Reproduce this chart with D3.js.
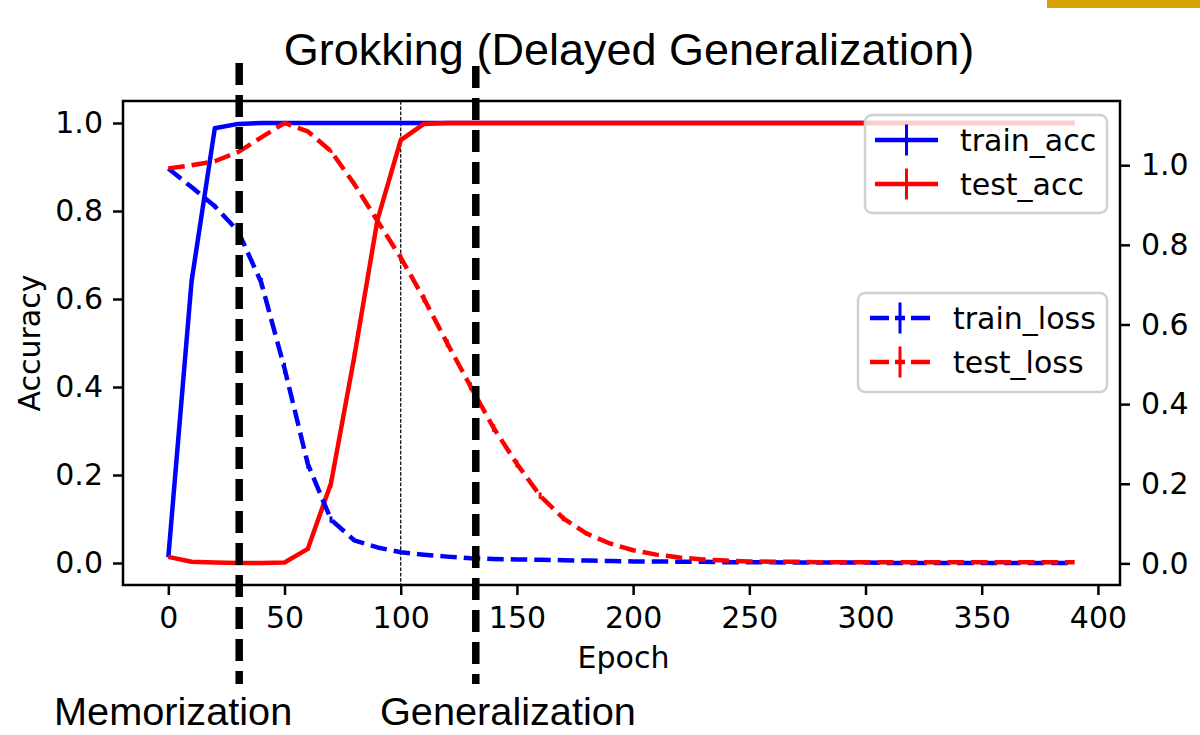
<!DOCTYPE html>
<html>
<head>
<meta charset="utf-8" />
<title>Grokking (Delayed Generalization)</title>
<script src="https://cdn.jsdelivr.net/npm/d3@7"></script>
<style>
  body { margin: 0; background: #fff; }
  svg text { font-family: 'DejaVu Sans', sans-serif; fill: #000; }
  .tick text { font-size: 30px; }
  .tick line { stroke: #000; stroke-width: 2.5px; }
  .big { font-family: 'Liberation Sans', Arial, sans-serif !important; }
</style>
</head>
<body>
<script>
// epochs (one point every 10 epochs)
var epochs = [0,10,20,30,40,50,60,70,80,90,100,110,120,130,140,150,160,170,180,190,
              200,210,220,230,240,250,260,270,280,290,300,310,320,330,340,350,360,370,380,390];

// accuracy, left axis
var trainAcc = [0.013,0.64,0.988,0.998,1,1,1,1,1,1,1,1,1,1,1,1,1,1,1,1,
                1,1,1,1,1,1,1,1,1,1,1,1,1,1,1,1,1,1,1,1];
var testAcc  = [0.014,0.003,0.001,0,0,0.001,0.032,0.181,0.468,0.78,0.961,0.998,1,1,1,1,1,1,1,1,
                1,1,1,1,1,1,1,1,1,1,1,1,1,1,1,1,1,1,1,1];
// loss, right axis
var trainLoss = [0.992,0.945,0.897,0.835,0.705,0.49,0.25,0.11,0.058,0.04,0.028,0.022,0.017,0.013,0.011,0.01,0.009,0.008,0.007,0.006,
                 0.005,0.005,0.004,0.004,0.003,0.003,0.003,0.002,0.002,0.002,0.002,0.001,0.001,0.001,0.001,0.001,0.001,0.001,0.001,0.001];
var testLoss  = [0.992,1.0,1.01,1.033,1.07,1.106,1.085,1.035,0.953,0.86,0.768,0.665,0.553,0.445,0.34,0.25,0.17,0.113,0.075,0.05,
                 0.033,0.022,0.015,0.01,0.007,0.005,0.004,0.004,0.003,0.003,0.003,0.003,0.003,0.003,0.003,0.003,0.003,0.003,0.003,0.003];

// error bars (std over runs)
var trainAccErr  = [0,0.015,0.004,0,0,0,0,0,0,0,0,0,0,0,0,0,0,0,0,0,0,0,0,0,0,0,0,0,0,0,0,0,0,0,0,0,0,0,0,0];
var testAccErr   = [0,0,0,0,0,0,0.004,0.01,0.012,0.012,0.006,0,0,0,0,0,0,0,0,0,0,0,0,0,0,0,0,0,0,0,0,0,0,0,0,0,0,0,0,0];
var trainLossErr = [0,0.004,0.006,0.01,0.012,0.014,0.012,0.008,0.004,0,0,0,0,0,0,0,0,0,0,0,0,0,0,0,0,0,0,0,0,0,0,0,0,0,0,0,0,0,0,0];
var testLossErr  = [0,0,0,0,0,0,0,0.004,0.006,0.008,0.01,0.01,0.01,0.01,0.01,0.009,0.008,0.007,0.005,0.003,0.002,0,0,0,0,0,0,0,0,0,0,0,0,0,0,0,0,0,0,0];

var xTicks = [0,50,100,150,200,250,300,350,400];
var yTicks = [0,0.2,0.4,0.6,0.8,1.0];
var markEpoch = 100;              // thin dotted marker
var phaseEpochs = [30.5, 132.3];  // memorization / generalization boundaries
var phaseLabels = ["Memorization", "Generalization"];

var W = 1200, H = 735;
var L = 123, R = 1120, T = 101, B = 585;
var LW = 4.5, DASH = "16.5,7";

var svg = d3.select("body").append("svg").attr("width", W).attr("height", H);

// matplotlib style 5% margins
function padded(lo, hi) { var m = (hi - lo) * 0.05; return [lo - m, hi + m]; }

var x = d3.scaleLinear().domain(padded(d3.min(epochs), d3.max(epochs))).range([L, R]);
var yAcc = d3.scaleLinear()
  .domain(padded(Math.min(d3.min(trainAcc), d3.min(testAcc)), Math.max(d3.max(trainAcc), d3.max(testAcc))))
  .range([B, T]);
var yLoss = d3.scaleLinear()
  .domain(padded(Math.min(d3.min(trainLoss), d3.min(testLoss)), Math.max(d3.max(trainLoss), d3.max(testLoss))))
  .range([B, T]);

// gold strip top right
svg.append("rect").attr("x", 1047).attr("y", 0).attr("width", 153).attr("height", 8).attr("fill", "#d6a200");

// thin dashed marker line
svg.append("line")
  .attr("x1", x(markEpoch)).attr("x2", x(markEpoch)).attr("y1", T).attr("y2", B)
  .attr("stroke", "#000").attr("stroke-width", 1.2).attr("stroke-dasharray", "3.7,1.6");

function drawSeries(vals, errs, yS, color, dashed) {
  var pts = epochs.map(function(e, i) { return [e, vals[i], errs[i]]; });
  var line = d3.line().x(function(d) { return x(d[0]); }).y(function(d) { return yS(d[1]); });
  svg.append("path").datum(pts)
    .attr("d", line)
    .attr("fill", "none")
    .attr("stroke", color)
    .attr("stroke-width", LW)
    .attr("stroke-linejoin", "round")
    .attr("stroke-dasharray", dashed ? DASH : null);
  svg.append("g").selectAll("line")
    .data(pts.filter(function(d) { return d[2] > 0; }))
    .enter().append("line")
    .attr("x1", function(d) { return x(d[0]); })
    .attr("x2", function(d) { return x(d[0]); })
    .attr("y1", function(d) { return yS(d[1] - d[2]); })
    .attr("y2", function(d) { return yS(d[1] + d[2]); })
    .attr("stroke", color).attr("stroke-width", 3);
}

drawSeries(trainAcc, trainAccErr, yAcc, "#0000ff", false);
drawSeries(testAcc, testAccErr, yAcc, "#ff0000", false);

function legend(x0, y0, w, h, items) {
  var g = svg.append("g");
  g.append("rect").attr("x", x0).attr("y", y0).attr("width", w).attr("height", h)
    .attr("rx", 7).attr("fill", "#fff").attr("fill-opacity", 0.8)
    .attr("stroke", "#d0d0d0").attr("stroke-width", 2.5);
  items.forEach(function(it) {
    g.append("line").attr("x1", it.hx0).attr("x2", it.hx1).attr("y1", it.y).attr("y2", it.y)
      .attr("stroke", it.color).attr("stroke-width", LW)
      .attr("stroke-dasharray", it.dashed ? "19,6,10,6,19" : null);
    var cx = (it.hx0 + it.hx1) / 2;
    g.append("line").attr("x1", cx).attr("x2", cx).attr("y1", it.y - 15.5).attr("y2", it.y + 15.5)
      .attr("stroke", it.color).attr("stroke-width", 3);
    g.append("text").attr("x", it.tx).attr("y", it.y + 11).style("font-size", "30px").text(it.label);
  });
}

legend(865, 115, 242, 98, [
  { label: "train_acc", color: "#0000ff", y: 140, hx0: 875, hx1: 938, tx: 960, dashed: false },
  { label: "test_acc", color: "#ff0000", y: 184, hx0: 875, hx1: 938, tx: 960, dashed: false }
]);

drawSeries(trainLoss, trainLossErr, yLoss, "#0000ff", true);
drawSeries(testLoss, testLossErr, yLoss, "#ff0000", true);

legend(858, 293, 249, 99, [
  { label: "train_loss", color: "#0000ff", y: 318, hx0: 870, hx1: 930, tx: 953, dashed: true },
  { label: "test_loss", color: "#ff0000", y: 362, hx0: 870, hx1: 930, tx: 953, dashed: true }
]);

// axes
var fmt = d3.format(".1f");
var gx = svg.append("g").attr("transform", "translate(0," + B + ")")
  .call(d3.axisBottom(x).tickValues(xTicks).tickSize(10).tickPadding(12).tickFormat(d3.format("d")));
var gl = svg.append("g").attr("transform", "translate(" + L + ",0)")
  .call(d3.axisLeft(yAcc).tickValues(yTicks).tickSize(10).tickPadding(10).tickFormat(fmt));
var gr = svg.append("g").attr("transform", "translate(" + R + ",0)")
  .call(d3.axisRight(yLoss).tickValues(yTicks).tickSize(10).tickPadding(11).tickFormat(fmt));
[gx, gl, gr].forEach(function(g) {
  g.select(".domain").remove();
  g.attr("font-family", null).attr("font-size", null);
});

svg.append("rect").attr("x", L).attr("y", T).attr("width", R - L).attr("height", B - T)
  .attr("fill", "none").attr("stroke", "#000").attr("stroke-width", 2.5);

svg.append("text").attr("x", (L + R) / 2 + 2).attr("y", 668).attr("text-anchor", "middle")
  .style("font-size", "30px").text("Epoch");
svg.append("text").attr("transform", "translate(40," + (T + B) / 2 + ") rotate(-90)")
  .attr("text-anchor", "middle").style("font-size", "30px").text("Accuracy");

// phase boundaries
svg.append("g").selectAll("line").data(phaseEpochs).enter().append("line")
  .attr("x1", function(d) { return x(d); }).attr("x2", function(d) { return x(d); })
  .attr("y1", function(d, i) { return i === 0 ? 63 : 66; })
  .attr("y2", 684)
  .attr("stroke", "#000").attr("stroke-width", 7.5).attr("stroke-dasharray", "22,10");

svg.append("text").attr("class", "big").attr("x", 629).attr("y", 65).attr("text-anchor", "middle")
  .style("font-size", "45px").text("Grokking (Delayed Generalization)");
svg.append("text").attr("class", "big").attr("x", 54).attr("y", 725)
  .style("font-size", "39.7px").text(phaseLabels[0]);
svg.append("text").attr("class", "big").attr("x", 380).attr("y", 725)
  .style("font-size", "39.7px").text(phaseLabels[1]);
</script>
</body>
</html>
